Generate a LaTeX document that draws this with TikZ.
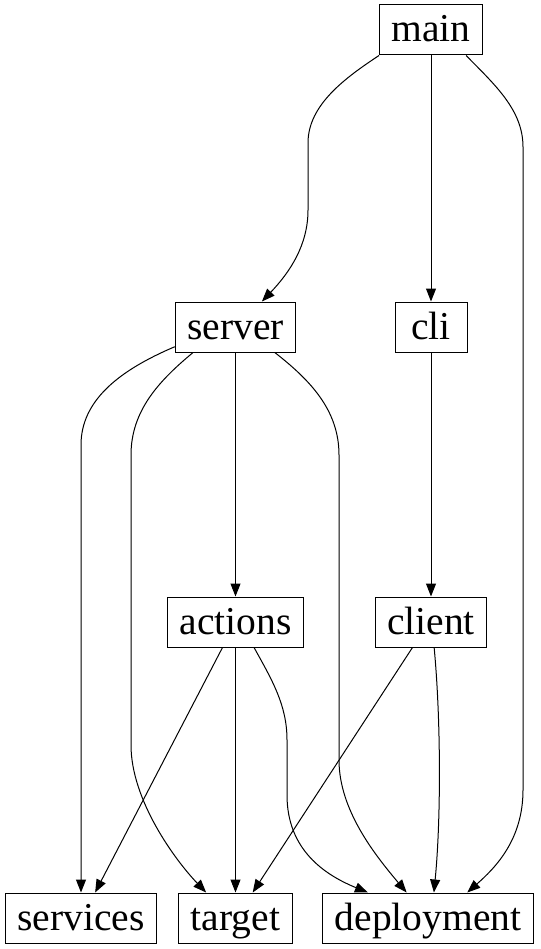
\documentclass[tikz,border=0pt]{standalone}
\usepackage{fontspec}
\setmainfont{Liberation Serif}
\usetikzlibrary{arrows.meta}

\begin{document}
\begin{tikzpicture}[x=1pt,y=-1pt]
    \tikzset{vertex/.style = {shape=rectangle, draw, line width=1pt, minimum width=72pt, minimum height=50pt, inner xsep=12pt, text height=30pt, text depth=6pt, font=\fontsize{39.5}{47}\selectfont}}
    \tikzset{edge/.style = {draw, line width=1pt, -{Triangle[length=13pt,width=10pt]}}}
    \useasboundingbox (0,0) rectangle (540,949);

    % vertices
    \node[vertex] (main) at (431,30) {main};
    \node[vertex] (server) at (235.5,327) {server};
    \node[vertex] (cli) at (431,327) {cli};
    \node[vertex] (actions) at (235.5,622) {actions};
    \node[vertex] (client) at (431,622) {client};
    \node[vertex] (services) at (81,918) {services};
    \node[vertex] (target) at (235.5,918) {target};
    \node[vertex] (deployment) at (428,918) {deployment};

    % edges from main
    \draw[edge] (main.south west) .. controls (345,78) and (308,105) .. (308,143) -- (308,210) .. controls (308,245) and (290,272) .. (server.44);
    \draw[edge] (main) -- (cli);
    \draw[edge] (main.-36) .. controls (495,85) and (523,110) .. (523,147) -- (523,790) .. controls (523,840) and (495,868) .. (deployment.33);

    % edges from server
    \draw[edge] (server.198) .. controls (120,370) and (81,400) .. (81,445) -- (services.north);
    \draw[edge] (server.211) .. controls (160,380) and (131,410) .. (131,455) -- (131,745) .. controls (131,800) and (175,860) .. (target.139);
    \draw[edge] (server) -- (actions);
    \draw[edge] (server.-33) .. controls (310,380) and (339,410) .. (339,455) -- (339,760) .. controls (339,810) and (375,855) .. (deployment.130);

    % edges from cli
    \draw[edge] (cli) -- (client);

    % edges from actions
    \draw[edge] (actions.243) -- (services.61);
    \draw[edge] (actions) -- (target);
    \draw[edge] (actions.-54) .. controls (272,680) and (287,705) .. (287,740) -- (287,795) .. controls (287,850) and (325,875) .. (deployment.157);

    % edges from client
    \draw[edge] (client.234) -- (target.56);
    \draw[edge] (client.-83) .. controls (441,720) and (441,820) .. (deployment.77);
\end{tikzpicture}
\end{document}
